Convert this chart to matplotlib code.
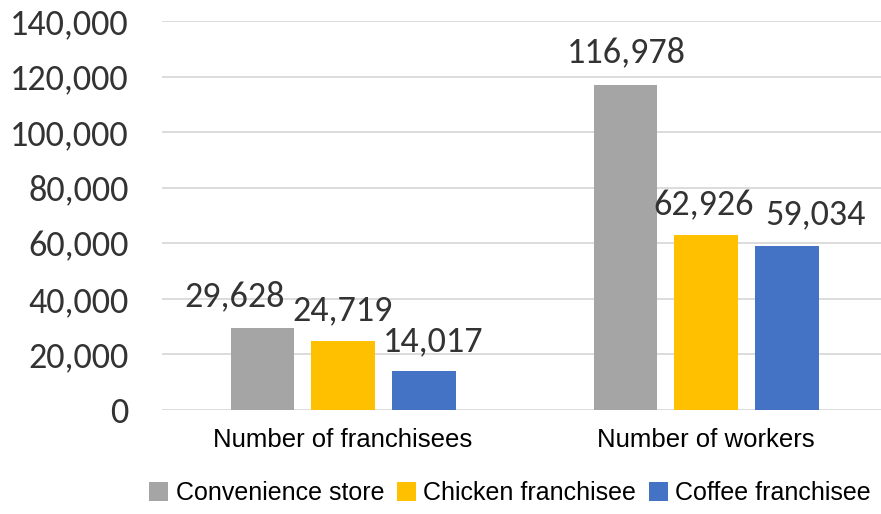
import matplotlib.pyplot as plt
import numpy as np
from matplotlib import font_manager

categories = ['Number of franchisees', 'Number of workers']
series_names = ['Convenience store', 'Chicken franchisee', 'Coffee franchisee']
convenience = [29628, 116978]
chicken = [24719, 62926]
coffee = [14017, 59034]
y_ticks = [0, 20000, 40000, 60000, 80000, 100000, 120000, 140000]

colours = ['#a5a5a5', '#ffc000', '#4472c4']

names = {f.name for f in font_manager.fontManager.ttflist}
if 'Carlito' in names:
    num_font, num_size = 'Carlito', 26
else:
    num_font, num_size = 'Lato', 23.5
cat_font = 'Liberation Sans'

fig = plt.figure(figsize=(8.81, 5.14), dpi=100)
ax = fig.add_axes([162/881, 104/514, (881-162)/881, 389/514])

x = np.arange(len(categories))
width = 0.176
step = 0.222

# label offsets in pixels (dx, dy above bar top), Excel put them a bit oddly
label_offsets = [[(-28, 31), (-1, 31), (9, 30)],
                 [(1, 33), (-2, 30), (29, 32)]]

for i, (vals, col) in enumerate(zip([convenience, chicken, coffee], colours)):
    pos = x + (i - 1) * step
    ax.bar(pos, vals, width, color=col, label=series_names[i], zorder=3)
    for j, v in enumerate(vals):
        dx, dy = label_offsets[j][i]
        ax.annotate(f'{v:,}', (pos[j], v), xytext=(dx * 0.72, dy * 0.72),
                    textcoords='offset points', ha='center', va='center',
                    fontsize=num_size, color='#333333', family=num_font)

ax.set_xlim(-0.499, 1.482)
ax.set_ylim(0, 140000)
ax.set_yticks(y_ticks)
ax.set_yticklabels([f'{t:,}' for t in y_ticks], fontsize=num_size, color='#333333', family=num_font)
ax.set_xticks(x)
ax.set_xticklabels(categories, fontsize=18.5, family=cat_font, color='black')
ax.tick_params(length=0)
ax.tick_params(axis='y', pad=24)
ax.tick_params(axis='x', pad=13)
ax.grid(axis='y', color='#d9d9d9', linewidth=1.3, zorder=0)
for s in ax.spines.values():
    s.set_visible(False)

ax.legend(loc='center', bbox_to_anchor=(510/881, 21/514), bbox_transform=fig.transFigure,
          ncol=3, frameon=False, prop={'family': cat_font, 'size': 18},
          handlelength=0.76, handleheight=0.76, handletextpad=0.3, columnspacing=0.5,
          borderpad=0, borderaxespad=0)

fig.savefig('out.png', dpi=100)
